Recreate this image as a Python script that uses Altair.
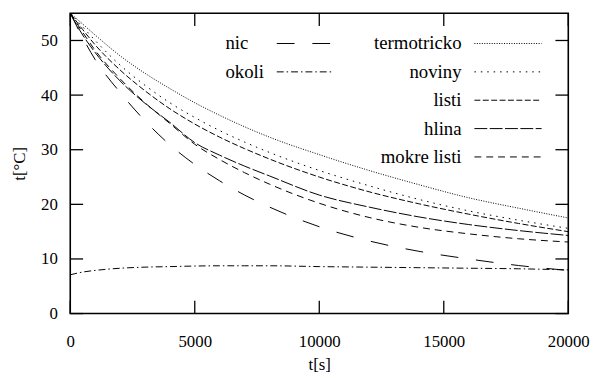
import altair as alt
import pandas as pd

# time samples [s]
t = [0, 500, 1000, 2000, 3000, 4000, 5000, 6000, 7000, 8000, 10000, 12000, 14000, 16000, 18000, 20000]

nic         = [55, 50.5, 46.5, 40.5, 35.3, 30.9, 27.3, 24.3, 21.7, 19.5, 15.9, 13.3, 11.4, 10.0, 8.8, 7.9]
okoli       = [7.1, 7.6, 7.9, 8.3, 8.5, 8.6, 8.7, 8.75, 8.75, 8.75, 8.6, 8.5, 8.4, 8.3, 8.2, 8.0]
termotricko = [55, 53.0, 51.0, 47.2, 44.0, 41.2, 38.6, 36.3, 34.2, 32.3, 29.1, 26.2, 23.6, 21.2, 19.3, 17.5]
noviny      = [55, 52.5, 50.0, 45.5, 41.8, 38.6, 35.9, 33.5, 31.4, 29.5, 26.2, 23.4, 20.9, 18.8, 17.1, 15.6]
listi       = [55, 52.0, 49.2, 44.6, 40.8, 37.5, 34.7, 32.3, 30.2, 28.3, 25.0, 22.3, 20.1, 18.2, 16.5, 15.0]
hlina       = [55, 51.0, 47.8, 42.6, 38.5, 35.0, 31.3, 29.0, 27.0, 25.2, 21.7, 19.5, 17.7, 16.3, 15.2, 14.3]
mokre_listi = [55, 51.5, 48.2, 43.0, 38.6, 34.8, 31.0, 28.2, 25.8, 23.7, 20.2, 17.6, 15.8, 14.6, 13.7, 13.1]

names = ["nic", "okoli", "termotricko", "noviny", "listi", "hlina", "mokre listi"]
series = [nic, okoli, termotricko, noviny, listi, hlina, mokre_listi]
dashes = [[18, 18], [7, 3, 1.5, 3], [1, 1.5], [1.5, 5], [6, 2.5], [13, 2.5], [7, 5]]
leg_col = [0, 0, 1, 1, 1, 1, 1]
leg_row = [0, 1, 0, 1, 2, 3, 4]

xticks = [0, 5000, 10000, 15000, 20000]
yticks = [0, 10, 20, 30, 40, 50]

rows = []
for n, vals in zip(names, series):
    for ti, v in zip(t, vals):
        rows.append({"name": n, "t": ti, "T": v})
df = pd.DataFrame(rows)

W, H = 504, 304
FONT = "'Times New Roman', 'Liberation Serif', 'DejaVu Serif', serif"
FS = 17
TL = 13

xs = alt.Scale(domain=[0, 20000], nice=False, zero=False)
ys = alt.Scale(domain=[0, 55], nice=False, zero=False)
dash = alt.Scale(domain=names, range=dashes)

xaxis = alt.Axis(values=xticks, title="t[s]", ticks=False, domain=False, grid=False,
                 labelPadding=20, titlePadding=8, format="d", labelFlush=False,
                 labelFont=FONT, labelFontSize=FS, labelColor="black",
                 titleFont=FONT, titleFontSize=FS, titleFontWeight="normal", titleColor="black")
yaxis = alt.Axis(values=yticks, title="t[°C]", ticks=False, domain=False, grid=False,
                 labelPadding=13, titlePadding=12,
                 labelFont=FONT, labelFontSize=FS, labelColor="black",
                 titleFont=FONT, titleFontSize=FS, titleFontWeight="normal", titleColor="black")

lines = alt.Chart(df).mark_line(color="black", strokeWidth=1, interpolate="monotone", clip=True).encode(
    x=alt.X("t:Q", scale=xs, axis=xaxis),
    y=alt.Y("T:Q", scale=ys, axis=yaxis),
    strokeDash=alt.StrokeDash("name:N", scale=dash, legend=None),
    detail="name:N",
)

xt = pd.DataFrame({"t": xticks})
yt = pd.DataFrame({"T": yticks})
tick_bottom = alt.Chart(xt).mark_rule(color="black", strokeWidth=1.3).encode(
    x=alt.X("t:Q", scale=xs, axis=xaxis), y=alt.value(H), y2=alt.value(H - TL))
tick_top = alt.Chart(xt).mark_rule(color="black", strokeWidth=1.3).encode(
    x=alt.X("t:Q", scale=xs, axis=xaxis), y=alt.value(0), y2=alt.value(TL))
tick_left = alt.Chart(yt).mark_rule(color="black", strokeWidth=1.3).encode(
    y=alt.Y("T:Q", scale=ys, axis=yaxis), x=alt.value(0), x2=alt.value(TL))
tick_right = alt.Chart(yt).mark_rule(color="black", strokeWidth=1.3).encode(
    y=alt.Y("T:Q", scale=ys, axis=yaxis), x=alt.value(W - TL), x2=alt.value(W))

leg = pd.DataFrame({"name": names, "col": leg_col, "row": leg_row})
legend_layers = []
for n, c, r in zip(names, leg_col, leg_row):
    py = 30.7 + 28.7 * r
    base = alt.Chart(leg).transform_filter(alt.datum.name == n)
    legend_layers.append(base.mark_text(
        align="left" if c == 0 else "right", baseline="middle", font=FONT, fontSize=19,
        color="black").encode(
        x=alt.value(157 if c == 0 else 396), y=alt.value(py), text="name:N"))
    legend_layers.append(base.mark_rule(color="black", strokeWidth=1).encode(
        x=alt.value(209 if c == 0 else 409), x2=alt.value(267 if c == 0 else 477),
        y=alt.value(py),
        strokeDash=alt.StrokeDash("name:N", scale=dash, legend=None)))

chart = alt.layer(lines, tick_bottom, tick_top, tick_left, tick_right, *legend_layers).properties(
    width=W, height=H,
    background="white",
    autosize=alt.AutoSizeParams(type="none"),
    padding={"left": 63, "top": 3, "right": 24, "bottom": 66},
).configure_view(stroke="black", strokeWidth=1.6)

chart.save("out.html", embed_options={"renderer": "svg", "actions": False})
